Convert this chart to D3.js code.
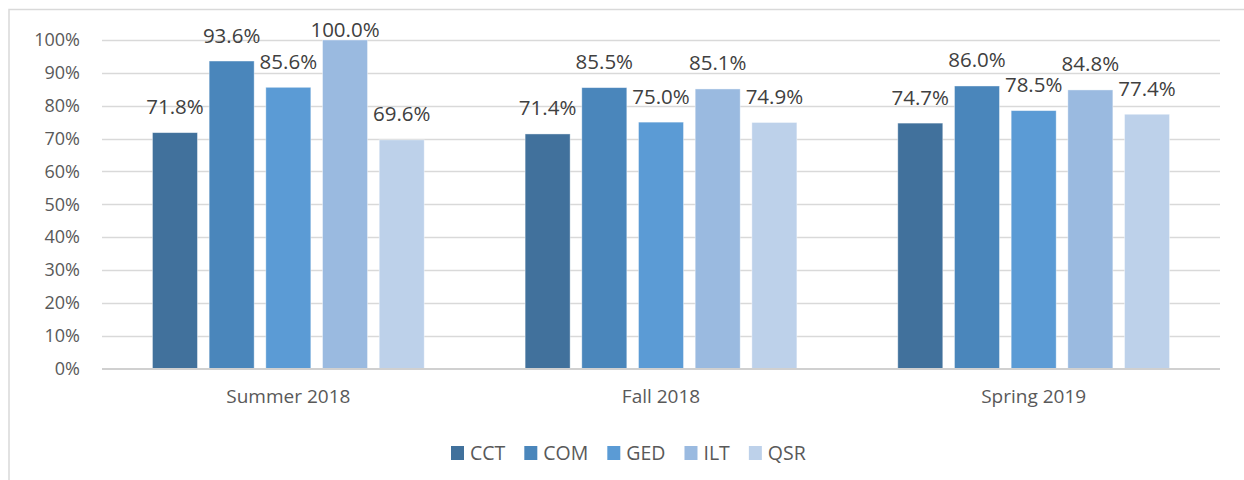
<!DOCTYPE html>
<html>
<head>
<meta charset="utf-8">
<script src="https://cdn.jsdelivr.net/npm/d3@7"></script>
<style>
  body { margin: 0; background: #fff; }
  svg { display: block; font-family: "Open Sans", "Liberation Sans", sans-serif; }
</style>
</head>
<body>
<div id="vis"></div>
<script>
var terms = ['Summer 2018', 'Fall 2018', 'Spring 2019'];
var programs = ['CCT', 'COM', 'GED', 'ILT', 'QSR'];
var colours = ['#41719c', '#4a86bb', '#5b9bd5', '#9abae0', '#bdd1ea'];
// one array per program, values in order of terms
var cct = [71.8, 71.4, 74.7];
var com = [93.6, 85.5, 86.0];
var ged = [85.6, 75.0, 78.5];
var ilt = [100.0, 85.1, 84.8];
var qsr = [69.6, 74.9, 77.4];
var yTicks = [0, 10, 20, 30, 40, 50, 60, 70, 80, 90, 100];

var series = [cct, com, ged, ilt, qsr];

var width = 1244;
var height = 480;
var fontFamily = '"Open Sans", "Liberation Sans", sans-serif';

var svg = d3.select('#vis')
    .append('svg')
    .attr('width', width)
    .attr('height', height);

// chart area border (runs off the right and bottom)
svg.append('rect')
    .attr('x', 9)
    .attr('y', 9.5)
    .attr('width', 1400)
    .attr('height', 600)
    .attr('fill', 'none')
    .attr('stroke', '#d9d9d9')
    .attr('stroke-width', 1.5);

var plot = { left: 102, right: 1220, top: 40, bottom: 368.5 };

var x0 = d3.scaleBand()
    .domain(terms)
    .range([plot.left, plot.right]);

var x1 = d3.scaleBand()
    .domain(programs)
    .range([0, x0.bandwidth()])
    .paddingInner(0.206)
    .paddingOuter(0.89);

var y = d3.scaleLinear()
    .domain([0, 100])
    .range([plot.bottom, plot.top]);

var colour = d3.scaleOrdinal()
    .domain(programs)
    .range(colours);

// gridlines
svg.append('g')
    .selectAll('line')
    .data(yTicks.slice(1))
    .enter()
    .append('line')
    .attr('x1', plot.left)
    .attr('x2', plot.right)
    .attr('y1', function (d) { return Math.round(y(d)) + 0.5; })
    .attr('y2', function (d) { return Math.round(y(d)) + 0.5; })
    .attr('stroke', '#d9d9d9')
    .attr('stroke-width', 1.3);

// y axis labels
var yAxis = d3.axisLeft(y)
    .tickValues(yTicks)
    .tickFormat(function (d) { return d + '%'; })
    .tickSize(0)
    .tickPadding(0);

svg.append('g')
    .attr('transform', 'translate(80,0)')
    .call(yAxis)
    .attr('font-family', fontFamily)
    .attr('font-size', 18)
    .call(function (g) { g.select('.domain').remove(); })
    .selectAll('text')
    .attr('fill', '#595959');

var rows = [];
terms.forEach(function (t, i) {
    programs.forEach(function (p, j) {
        rows.push({ term: t, program: p, value: series[j][i] });
    });
});

var groups = svg.append('g');

groups.selectAll('.bar')
    .data(rows)
    .enter()
    .append('rect')
    .attr('class', 'bar')
    .attr('x', function (d) { return x0(d.term) + x1(d.program); })
    .attr('width', x1.bandwidth())
    .attr('y', function (d) { return y(d.value); })
    .attr('height', function (d) { return plot.bottom - y(d.value); })
    .attr('fill', function (d) { return colour(d.program); })
    .attr('stroke', '#ffffff')
    .attr('stroke-opacity', 0.5)
    .attr('stroke-width', 0.8);

groups.selectAll('.label')
    .data(rows)
    .enter()
    .append('text')
    .attr('class', 'label')
    .attr('x', function (d) { return x0(d.term) + x1(d.program) + x1.bandwidth() / 2; })
    .attr('y', function (d) { return Math.max(y(d.value) - 18.5, 37); })
    .attr('text-anchor', 'middle')
    .attr('fill', '#404040')
    .attr('font-size', '20.5px')
    .text(function (d) { return d.value.toFixed(1) + '%'; });

// x axis line
svg.append('line')
    .attr('x1', plot.left)
    .attr('x2', plot.right)
    .attr('y1', plot.bottom + 0.5)
    .attr('y2', plot.bottom + 0.5)
    .attr('stroke', '#d0d0d0')
    .attr('stroke-width', 2.2);

var xAxis = d3.axisBottom(x0).tickSize(0).tickPadding(0);

svg.append('g')
    .attr('transform', 'translate(0,' + (plot.bottom + 21) + ')')
    .call(xAxis)
    .attr('font-family', fontFamily)
    .attr('font-size', 19)
    .call(function (g) { g.select('.domain').remove(); })
    .selectAll('text')
    .attr('fill', '#595959');

// legend
var legend = svg.append('g')
    .attr('transform', 'translate(0,460)');

var lx = 451;
programs.forEach(function (p) {
    legend.append('rect')
        .attr('x', lx)
        .attr('y', -14)
        .attr('width', 13)
        .attr('height', 14)
        .attr('fill', colour(p));
    var t = legend.append('text')
        .attr('x', lx + 19)
        .attr('y', 0)
        .attr('fill', '#595959')
        .attr('font-size', '19.5px')
        .text(p);
    lx = lx + 19 + t.node().getComputedTextLength() + 19;
});
</script>
</body>
</html>
